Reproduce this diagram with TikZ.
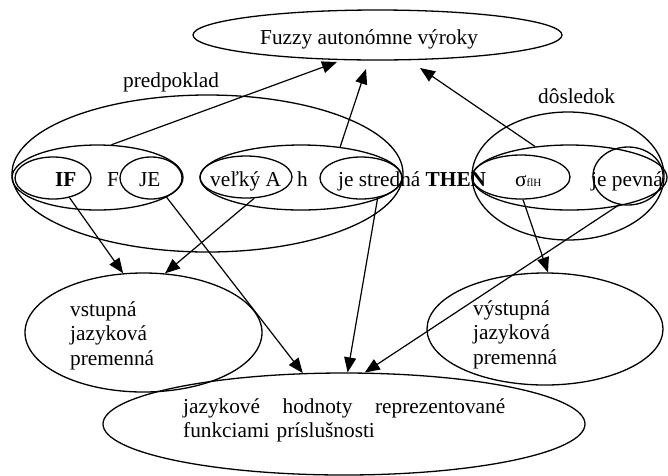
\documentclass[tikz,border=0pt]{standalone}
\usepackage{fontspec}
\setmainfont{Liberation Serif}
\usetikzlibrary{arrows.meta,shapes.geometric,calc}
\begin{document}
\begin{tikzpicture}[x=1pt,y=-1pt,
  ell/.style={draw,ellipse,line width=1.3pt,inner sep=0pt},
  arr/.style={-{Triangle[length=15pt,width=12pt]},line width=1.2pt},
  txt/.style={inner sep=0pt,anchor=base west,font=\fontsize{21.3}{24.5}\selectfont}]
\useasboundingbox (0,0) rectangle (668,475);
% ellipses
\node[ell,minimum width=369pt,minimum height=50pt] (top) at (377.5,35) {};
\node[ell,minimum width=391pt,minimum height=157pt] (big) at (207.5,173.5) {};
\node[ell,minimum width=171pt,minimum height=65pt] (iffje) at (97.5,177.5) {};
\node[ell,minimum width=76pt,minimum height=42pt] (if) at (53,178) {};
\node[ell,minimum width=62pt,minimum height=42pt] (je) at (151,178) {};
\node[ell,minimum width=202pt,minimum height=65pt] (vj) at (301,177.5) {};
\node[ell,minimum width=92pt,minimum height=42pt] (va) at (246,177) {};
\node[ell,minimum width=82pt,minimum height=42pt] (js) at (361,178) {};
\node[ell,minimum width=192pt,minimum height=128pt] (rout) at (568,176) {};
\node[ell,minimum width=195pt,minimum height=65pt] (rin) at (569.5,177.5) {};
\node[ell,minimum width=98pt,minimum height=44pt] (sig) at (521,177) {};
\node[ell,minimum width=70pt,minimum height=58pt] (jp) at (628,176) {};
\node[ell,minimum width=237pt,minimum height=119pt] (vst) at (143.5,332.5) {};
\node[ell,minimum width=236pt,minimum height=112pt] (vyst) at (545,329) {};
\node[ell,minimum width=482pt,minimum height=102pt] (jh) at (344,424) {};
% texts
\node[txt] (ttop) at (260,44) {Fuzzy autonómne výroky};
\node[txt] (tpred) at (123,87) {predpoklad};
\node[txt] (tdos) at (538,103) {dôsledok};
\node[txt] (tif) at (55,186) {\bfseries IF};
\node[txt] (tf) at (107,186) {F};
\node[txt] (tje) at (139,186) {JE};
\node[txt] (tva) at (210,186) {veľký A};
\node[txt] (th) at (297,186) {h};
\node[txt] (tjs) at (338,186) {je stredná \textbf{THEN}};
\node[txt] (tsig) at (515,186) {σ{\fontsize{11}{11}\selectfont flH}};
\node[txt] (tjp) at (591,186) {je pevná};
\node[txt,text width=110pt,align=left] (tvst) at (70,316) {vstupná\\jazyková\\premenná};
\node[txt,text width=110pt,align=left] (tvyst) at (473,315) {výstupná\\jazyková\\premenná};
\node[txt,text width=330pt,align=left] (tjh) at (183,413) {\makebox[322pt][s]{jazykové\hfill hodnoty\hfill reprezentované}\\funkciami príslušnosti};
% arrow tips near top ellipse
\coordinate (t1) at (337,62);
\coordinate (t2) at (366,69);
\coordinate (t3) at (420,68);
% arrows
\draw[arr] (iffje.67) -- (t1);
\draw[arr] (vj.38) -- (t2);
\draw[arr] (rin.138) -- (t3);
\draw[arr] (if.-50) -- (vst.109);
\draw[arr] (va.-69) -- (vst.70);
\draw[arr] (je.-51) -- (jh.129);
\draw[arr] (js.-50) -- (jh.86);
\draw[arr] (jp.-107) -- (jh.68);
\draw[arr] (sig.-85) -- (vyst.87);
\end{tikzpicture}
\end{document}
